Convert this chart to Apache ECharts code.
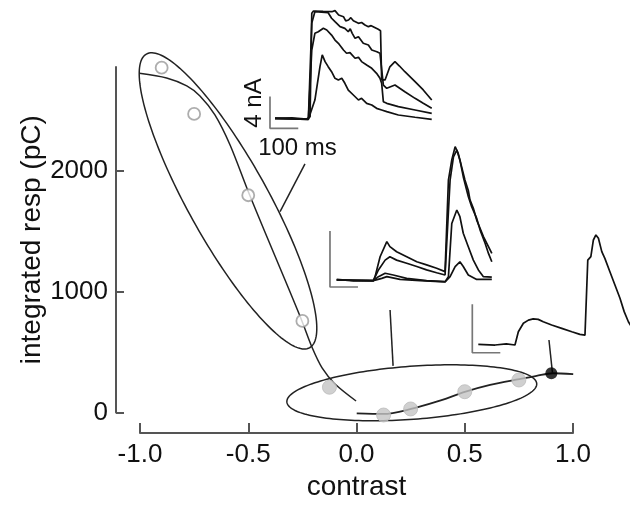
<!DOCTYPE html>
<html><head><meta charset="utf-8">
<script src="https://cdn.jsdelivr.net/npm/echarts@6.0.0/dist/echarts.min.js"></script>
<style>html,body{margin:0;padding:0;background:#fff}#c{width:630px;height:511px}</style>
</head><body><div id="c"></div>
<script>
// ---- main panel data ----
const xTicks = [-1.0, -0.5, 0.0, 0.5, 1.0];
const yTicks = [0, 1000, 2000];
const openPoints = [[-0.9, 2855], [-0.75, 2472], [-0.5, 1799], [-0.25, 758]];
const grayPoints = [[-0.125, 209], [0.125, -21], [0.25, 29], [0.5, 172], [0.75, 269]];
const blackPoints = [[0.9, 325]];
const upperCurve = [[-1.003, 2809], [-0.877, 2770], [-0.784, 2704], [-0.723, 2621], [-0.654, 2464], [-0.584, 2215], [-0.503, 1843], [-0.423, 1495], [-0.330, 1097], [-0.252, 758], [-0.206, 542], [-0.159, 369], [-0.099, 236], [-0.002, 95]];
const lowerCurve = [[0.001, -7], [0.124, -12], [0.252, 29], [0.370, 89], [0.504, 172], [0.617, 228], [0.752, 276], [0.832, 303], [0.906, 325], [1.001, 317]];
// ellipses: centre x, centre y, semi-axis A (dx, dy), semi-axis B (dx, dy)
const ellipses = [[-0.5935, 1752, 0.377, -1216, 0.1615, 161], [0.2554, 163, 0.577, 76, 0.0089, -219]];
const leader1 = [[-0.238, 2058], [-0.353, 1663]];
const leader2 = [[0.155, 849], [0.169, 386]];
const leader3 = [[0.889, 600], [0.905, 330]];

// ---- inset 1 (ms, nA) ----
const trA = [[0,0],[60,0.05],[112,-0.09],[124,0.2],[130,13.25],[136,13.55],[170,13.5],[201,13.46],[212,13.6],[225,13.04],[242,12.83],[250,12.3],[260,12.41],[268,12.7],[277,12.32],[295,11.99],[306,12.1],[318,11.78],[330,11.57],[340,11.7],[347,11.49],[365,11.24],[373,11.06],[377,4.84],[389,4.84],[406,6.5],[424,7.15],[440,6.6],[459,5.88],[495,4.62],[524,3.58],[554,2.31]];
const trB = [[0,0],[118,-0.09],[130,12.04],[141,13.46],[188,13.33],[200,12.63],[212,12.2],[230,11.57],[247,11.36],[259,10.93],[266,11.3],[273,10.73],[283,10.1],[295,10.31],[312,9.47],[330,9.26],[342,8.62],[360,8.41],[371,8.21],[377,8.0],[383,4.2],[395,3.79],[424,4.2],[459,3.35],[495,2.52],[524,1.89],[554,1.26]];
const trC = [[0,0],[118,-0.13],[130,8.62],[141,10.73],[153,10.93],[171,11.36],[183,11.15],[200,10.51],[212,9.88],[224,9.47],[242,8.62],[253,8.21],[265,8.29],[283,7.58],[295,7.7],[306,7.16],[324,6.73],[342,6.31],[359,5.68],[371,5.05],[377,4.42],[383,2.1],[395,1.89],[436,1.47],[495,1.05],[554,0.63]];
const trD = [[0,0],[118,-0.13],[141,2.31],[159,6.52],[167,8.0],[177,7.15],[188,6.52],[200,5.88],[212,5.05],[224,4.84],[236,5.05],[247,4.42],[259,3.57],[277,2.94],[295,2.31],[306,2.52],[324,1.89],[342,1.68],[359,1.26],[377,1.05],[395,0.84],[436,0.42],[495,0.13],[554,-0.13]];
const bar1 = [[-17.7, 2.74], [-17.7, -1.26], [82.3, -1.26]];

// ---- inset 2 ----
const trM1 = [[0,0.02],[60,-0.03],[131,-0.02],[137,0.12],[155,0.83],[179,1.37],[190,1.19],[214,1.01],[250,0.83],[286,0.65],[321,0.54],[357,0.42],[387,0.30],[393,0.36],[399,3.57],[411,4.29],[423,4.76],[434,4.52],[446,4.05],[458,3.57],[470,3.2],[476,2.86],[488,2.56],[494,2.6],[500,2.14],[512,1.85],[524,1.55],[542,1.19],[554,0.95]];
const trM2 = [[0,0],[131,-0.02],[149,0.36],[173,0.71],[190,0.83],[214,0.71],[250,0.60],[286,0.48],[321,0.36],[357,0.26],[387,0.18],[393,0.24],[405,3.57],[417,4.40],[429,4.64],[440,4.29],[452,3.69],[470,2.98],[482,2.62],[500,2.20],[512,1.79],[530,1.31],[542,0.95],[554,0.65]];
const trM3 = [[0,0],[131,-0.02],[149,0.12],[173,0.24],[202,0.18],[250,0.06],[321,-0.02],[387,-0.06],[399,0.12],[411,2.02],[429,2.5],[440,2.26],[452,1.67],[470,1.19],[488,0.71],[506,0.36],[524,0.12],[554,0.1]];
const trM4 = [[0,0],[131,-0.02],[161,0.06],[179,0.12],[226,0.02],[298,-0.02],[387,-0.07],[405,0.12],[423,0.48],[440,0.65],[452,0.48],[470,0.18],[500,0.02],[554,0.02]];
const bar2 = [[-24, 1.75], [-24, -0.25], [76, -0.25]];

// ---- inset 3 ----
const trR = [[0,0],[60,-0.03],[100,0.02],[131,-0.03],[143,0.52],[161,0.87],[179,1.00],[196,1.05],[214,1.03],[232,0.93],[262,0.80],[298,0.66],[334,0.52],[363,0.41],[381,0.38],[391,3.48],[402,3.62],[411,4.31],[420,4.52],[429,4.38],[441,3.83],[452,3.55],[470,3.00],[488,2.45],[506,1.90],[521,1.35],[536,0.93],[545,0.76]];
const bar3 = [[-21.4, 1.65], [-21.4, -0.35], [78.6, -0.35]];

const FONT = 'Liberation Sans';
const AX = '#555';
const chart = echarts.init(document.getElementById('c'), null, {renderer: 'canvas'});

function hiddenX(g, min, max) { return {type: 'value', gridIndex: g, min, max, show: false}; }
function hiddenY(g, min, max) { return {type: 'value', gridIndex: g, min, max, show: false}; }
function trace(data, xi, col) {
  return {type: 'line', xAxisIndex: xi, yAxisIndex: xi, data, showSymbol: false, symbol: 'none',
          lineStyle: {color: col || '#111', width: 1.7}, clip: false, animation: false, silent: true, z: 3};
}
function g(o) { return Object.assign({containLabel: false, outerBoundsMode: 'none'}, o); }

chart.setOption({
  animation: false,
  backgroundColor: '#fff',
  textStyle: {fontFamily: FONT},
  grid: [
    g({left: 140, top: 67, width: 433, height: 366}),
    g({left: 116, top: 67, width: 10, height: 345.5}),
    g({left: 260.85, top: 7.42, width: 183.9, height: 126.72}),
    g({left: 322.7, top: 140, width: 182, height: 168}),
    g({left: 464.3, top: 223.3, width: 165.2, height: 145.2})
  ],
  xAxis: [
    {type: 'value', gridIndex: 0, min: -1, max: 1, interval: 0.5,
     axisLine: {show: true, onZero: false, lineStyle: {color: AX, width: 2}},
     axisTick: {show: true, inside: true, length: 10, lineStyle: {color: AX, width: 2}},
     axisLabel: {show: true, color: '#111', fontSize: 26, fontFamily: FONT, margin: 9,
                 customValues: xTicks, formatter: v => v.toFixed(1)},
     splitLine: {show: false},
     name: 'contrast', nameLocation: 'middle', nameGap: 40,
     nameTextStyle: {color: '#111', fontSize: 28, fontFamily: FONT}},
    hiddenX(1, 0, 1),
    hiddenX(2, -50, 600),
    hiddenX(3, -50, 600),
    hiddenX(4, -50, 540)
  ],
  yAxis: [
    hiddenY(0, -170, 2861),
    {type: 'value', gridIndex: 1, min: 0, max: 2861, interval: 1000,
     axisLine: {show: true, onZero: false, lineStyle: {color: AX, width: 2}},
     axisTick: {show: true, inside: true, length: 8, customValues: yTicks, lineStyle: {color: AX, width: 2}},
     axisLabel: {show: true, color: '#111', fontSize: 26, fontFamily: FONT, margin: 8, customValues: yTicks,
                 formatter: v => String(v)},
     splitLine: {show: false},
     name: 'integrated resp (pC)', nameLocation: 'middle', nameGap: 70, nameRotate: 90,
     nameTextStyle: {color: '#111', fontSize: 28, fontFamily: FONT}},
    hiddenY(2, -2, 14),
    hiddenY(3, -1, 5),
    hiddenY(4, -1, 5)
  ],
  series: [
    {type: 'custom', xAxisIndex: 0, yAxisIndex: 0, data: ellipses, clip: false, silent: true, z: 2,
     renderItem: function (params, api) {
       const cx = api.value(0), cy = api.value(1), ax = api.value(2), ay = api.value(3), bx = api.value(4), by = api.value(5);
       const pts = [];
       for (let i = 0; i <= 180; i++) {
         const t = i / 180 * 2 * Math.PI;
         pts.push(api.coord([cx + ax * Math.cos(t) + bx * Math.sin(t), cy + ay * Math.cos(t) + by * Math.sin(t)]));
       }
       return {type: 'polyline', shape: {points: pts}, style: {fill: null, stroke: '#222', lineWidth: 1.5}};
     }},
    {type: 'line', data: upperCurve, smooth: 0.3, showSymbol: false, symbol: 'none', clip: false, silent: true,
     lineStyle: {color: '#222', width: 1.5}, z: 3},
    {type: 'line', data: lowerCurve, smooth: 0.3, showSymbol: false, symbol: 'none', clip: false, silent: true,
     lineStyle: {color: '#222', width: 1.8}, z: 3},
    {type: 'line', data: leader1, showSymbol: false, symbol: 'none', clip: false, silent: true, lineStyle: {color: '#222', width: 1.5}},
    {type: 'line', data: leader2, showSymbol: false, symbol: 'none', clip: false, silent: true, lineStyle: {color: '#222', width: 1.5}},
    {type: 'line', data: leader3, showSymbol: false, symbol: 'none', clip: false, silent: true, lineStyle: {color: '#222', width: 1.5}},
    {type: 'scatter', data: openPoints, symbol: 'circle', symbolSize: 12, clip: false, silent: true, z: 5,
     itemStyle: {color: '#fff', borderColor: '#999', borderWidth: 1.8}},
    {type: 'scatter', data: grayPoints, symbol: 'circle', symbolSize: 14, clip: false, silent: true, z: 5,
     itemStyle: {color: '#c4c4c4', borderColor: '#bbb', borderWidth: 1}},
    {type: 'scatter', data: blackPoints, symbol: 'circle', symbolSize: 12, clip: false, silent: true, z: 5,
     itemStyle: {color: '#000'}},
    trace(trA, 2), trace(trB, 2), trace(trC, 2), trace(trD, 2), trace(bar1, 2, '#777'),
    trace(trM1, 3), trace(trM2, 3), trace(trM3, 3), trace(trM4, 3), trace(bar2, 3, '#777'),
    trace(trR, 4), trace(bar3, 4, '#777')
  ],
  graphic: [
    {type: 'text', x: 254, y: 103, rotation: Math.PI / 2,
     style: {text: '4 nA', font: '24px "Liberation Sans"', fill: '#111', align: 'center', verticalAlign: 'middle'}},
    {type: 'text', x: 297.5, y: 148,
     style: {text: '100 ms', font: '24px "Liberation Sans"', fill: '#111', align: 'center', verticalAlign: 'middle'}}
  ]
});
</script>
</body></html>
